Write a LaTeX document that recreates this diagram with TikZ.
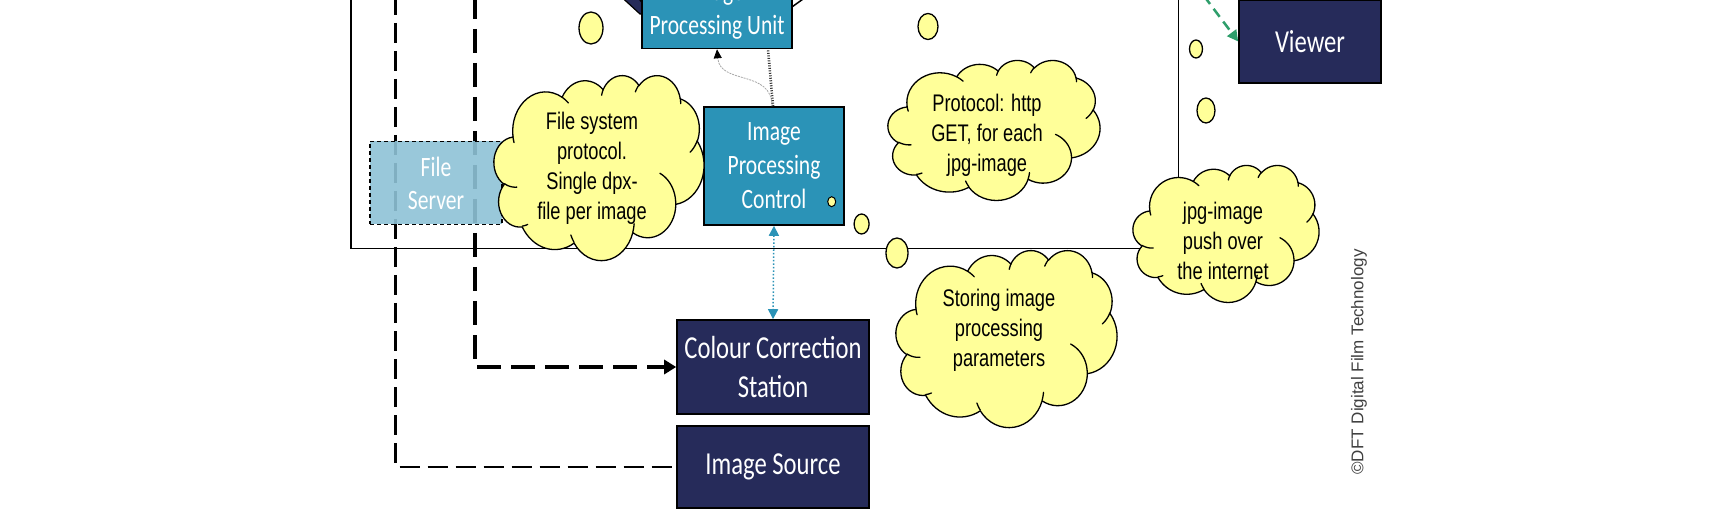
\documentclass[tikz,border=0pt]{standalone}
\usepackage{fontspec}
\usetikzlibrary{arrows.meta,calc}
\newfontfamily\boxfont{Carlito}[FakeStretch=0.77]
\newfontfamily\cloudfont{Liberation Sans}[FakeStretch=0.76]
\newfontfamily\copyfont{Liberation Sans}
\definecolor{teal1}{HTML}{2B93B7}
\definecolor{navy1}{HTML}{262B5A}
\definecolor{fsblue}{HTML}{8EC3D6}
\definecolor{cloudy}{HTML}{FFFF99}
\definecolor{green1}{HTML}{2E9E6B}

% PowerPoint-like cloud outline (path space 0..432)
\newcommand\cloudmain{67.53/91.90/-190.4875/123.7805,53.33/72.67/-144.1024/89.9452,43.65/59.45/-145.8079/99.7230,48.57/65.95/-130.9861/117.2417,53.33/72.73/-78.7089/109.0269,67.75/92.20/-46.2673/130.2690,57.85/78.67/0.6250/114.0333,67.52/92.15/22.4516/115.1726,77.20/105.43/66.2426/75.7110,43.60/59.18/-274.9421/146.7356,43.45/59.45/-246.8285/152.5189}
\newcommand\cloudinner{46.93/261.77/43.45/59.45/86.7420/26.4295,69.28/348.99/43.60/59.18/73.6105/11.4475,164.78/390.90/67.52/92.15/137.6242/14.0811,288.27/347.51/67.52/92.15/6.4533/15.9984,341.29/229.54/57.85/78.67/-70.2924/70.9174,417.98/153.54/53.33/72.73/30.3180/27.7515,383.24/54.26/48.57/65.95/-13.7443/14.8589,290.78/39.52/48.57/65.95/-149.1815/18.1954,221.41/47.20/43.65/59.45/-163.4943/17.6864,140.00/51.92/67.53/91.90/-66.7070/12.3194,41.27/157.89/67.53/91.90/157.6544/11.8582}
\newcommand\cldarc[4]{%
  \pgfmathsetmacro\cldtA{atan2(sin(#3)*(#1),cos(#3)*(#2))}%
  \pgfmathsetmacro\cldtB{atan2(sin((#3)+(#4))*(#1),cos((#3)+(#4))*(#2))}%
  \pgfmathsetmacro\clddT{mod(\cldtB-\cldtA+720,360)}%
  \pgfmathsetmacro\cldcx{\cpx-(#1)*cos(\cldtA)}%
  \pgfmathsetmacro\cldcy{\cpy-(#2)*sin(\cldtA)}%
  \foreach \cldk in {1,...,16}{%
    \pgfmathsetmacro\cldt{\cldtA+\clddT*\cldk/16}%
    \pgfmathsetmacro\qx{\cldcx+(#1)*cos(\cldt)}%
    \pgfmathsetmacro\qy{\cldcy+(#2)*sin(\cldt)}%
    \xdef\cldacc{\cldacc -- (\qx,\qy)}%
    \xdef\cpx{\qx}\xdef\cpy{\qy}%
  }%
}
\xdef\cpx{39.00}\xdef\cpy{143.70}%
\xdef\cldacc{(39.00,143.70)}%
\foreach \cwr/\chr/\cst/\csw in \cloudmain {\cldarc{\cwr}{\chr}{\cst}{\csw}}%
\global\let\cldmain\cldacc
\xdef\cldacc{}%
\foreach \px/\py/\cwr/\chr/\cst/\csw in \cloudinner {%
  \xdef\cpx{\px}\xdef\cpy{\py}%
  \xdef\cldacc{\cldacc (\px,\py)}%
  \cldarc{\cwr}{\chr}{\cst}{\csw}}%
\global\let\cldinner\cldacc
\newcommand\drawcloud[4]{%
  \begin{scope}[shift={(#1,#2)},xscale=#3/432,yscale=#4/432]
    \fill[cloudy] \cldmain -- cycle;
    \draw[line width=1.3pt,line join=round] \cldmain -- cycle;
    \draw[line width=1.3pt,line cap=round] \cldinner;
  \end{scope}}

\begin{document}
\begin{tikzpicture}[x=1pt,y=-1pt,
  basebox/.style={draw=black,line width=1.6pt,text=white,align=center,inner sep=0pt},
  tealbox/.style={basebox,fill=teal1,font=\boxfont\fontsize{28}{34}\selectfont},
  navybox/.style={basebox,fill=navy1,font=\boxfont\fontsize{32}{39}\selectfont},
  fsbox/.style={draw=black,line width=1.2pt,dash pattern=on 4pt off 3pt,fill=fsblue,fill opacity=0.9,text opacity=1,text=white,align=center,inner sep=0pt,font=\boxfont\fontsize{28}{33}\selectfont},
  bubble/.style={draw=black,line width=1.3pt,fill=cloudy},
  cloudtext/.style={align=center,inner sep=0pt,font=\cloudfont\fontsize{24}{30}\selectfont},
  thindash/.style={draw=black,line width=2.2pt,dash pattern=on 20pt off 8pt},
  thickdash/.style={draw=black,line width=3.5pt,dash pattern=on 24pt off 10pt},
  dotline/.style={draw=black!80,line width=2.6pt,dash pattern=on 1pt off 1.5pt},
  graycurve/.style={draw=gray!70,line width=0.8pt,dash pattern=on 2pt off 1pt},
  bluearrow/.style={draw=teal1,line width=1.5pt,dash pattern=on 1.5pt off 2pt,{Triangle[length=10pt,width=10pt]}-{Triangle[length=10pt,width=10pt]}},
  greenarrow/.style={draw=green1,line width=2.5pt,dash pattern=on 10pt off 6pt,-{Triangle[length=11pt,width=11pt]}}
]
\useasboundingbox (0,0) rectangle (1732,521);
\clip (0,0) rectangle (1732,521);
\fill[white] (0,0) rectangle (1732,521);

% outer frame
\draw[line width=1.5pt] (351,-20) rectangle (1178.6,248.5);

% dashed feeds
\coordinate (t1) at (395.5,-5);
\coordinate (t2) at (475,-5);
\node[navybox,minimum width=192pt,minimum height=94pt] (ccs) at (773,367) {Colour Correction\\Station};
\node[navybox,minimum width=192pt,minimum height=82pt] (src) at (773,467) {Image Source};
\draw[thindash] (t1) |- (src.west);
\draw[thickdash,-{Triangle[length=12pt,width=14pt]}] (t2) |- (ccs.west);

% file server
\node[fsbox,minimum width=132pt,minimum height=83pt] (fs) at (436,183) {File\\Server};

% shapes behind IPU
\filldraw[fill=navy1,draw=black,line width=1.2pt] (616,-8) -- (633,-8) -- (652,14) -- (640,14) -- cycle;
\draw[line width=1.5pt] (785,12) -- (810,-6);

% processing boxes
\node[tealbox,minimum width=150pt,minimum height=76pt] (ipu) at (717,10.5) {Image\\Processing Unit};
\node[tealbox,minimum width=140.5pt,minimum height=118pt] (ipc) at (774,166) {Image\\Processing\\Control};
\node[navybox,minimum width=142pt,minimum height=83pt] (viewer) at (1310,41.5) {Viewer};

% connectors
\draw[dotline] ([xshift=-1pt]ipc.north) -- ([xshift=51pt]ipu.south);
\draw[graycurve,-{Triangle[length=9pt,width=8pt,black]}] ([xshift=-2pt]ipc.north) .. controls +(0,-37) and +(3,36) .. (ipu.south);
\draw[bluearrow] (ipc.south) -- (ccs.north);
\coordinate (g0) at (1204,-4);
\draw[greenarrow] (g0) -- (viewer.west);

% clouds
\drawcloud{494}{75}{210}{185}
\drawcloud{888}{60}{212}{140}
\drawcloud{1133}{165}{186}{137}
\drawcloud{896}{250}{221}{177}
\node[cloudtext] (ct1) at (592,168) {File system\\protocol.\\Single dpx-\\file per image};
\node[cloudtext] (ct2) at (987,135) {Protocol: http\\GET, for each\\jpg-image};
\node[cloudtext] (ct3) at (1223,241) {jpg-image\\push over\\the internet};
\node[cloudtext] (ct4) at (999,330) {Storing image\\processing\\parameters};

% thought bubbles
\draw[bubble] (591,28) ellipse [x radius=12pt,y radius=16pt];
\draw[bubble] (928,26.5) ellipse [x radius=10pt,y radius=13pt];
\draw[bubble] (1196,49) ellipse [x radius=6.5pt,y radius=9pt];
\draw[bubble] (1206,110.5) ellipse [x radius=9pt,y radius=12.5pt];
\draw[bubble] (861.6,224) ellipse [x radius=7.5pt,y radius=10pt];
\draw[bubble] (897,253) ellipse [x radius=11pt,y radius=15pt];
\draw[bubble,line width=1pt] (831.7,201.7) ellipse [x radius=4pt,y radius=5pt];

% copyright
\node[rotate=90,text=black!75,inner sep=0pt,font=\copyfont\fontsize{17}{20}\selectfont] (copy) at (1359,362) {©DFT Digital Film Technology};
\end{tikzpicture}
\end{document}
